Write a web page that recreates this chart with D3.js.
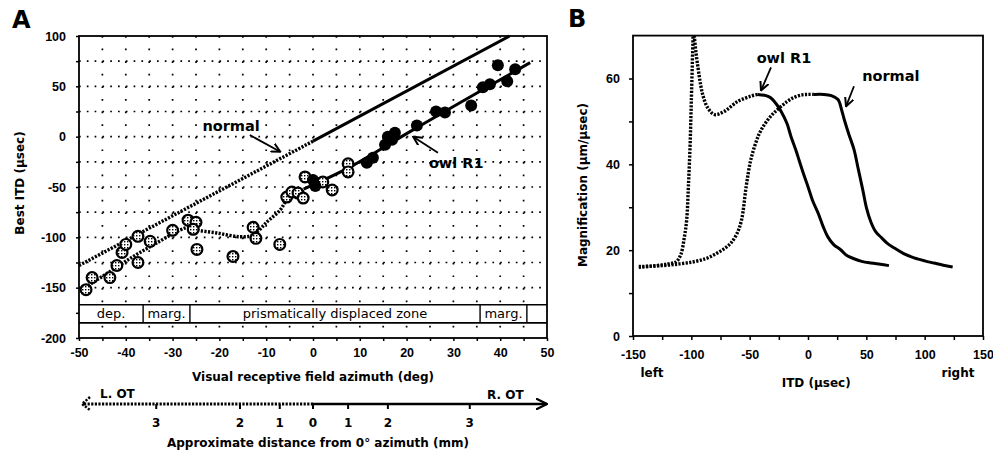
<!DOCTYPE html>
<html>
<head>
<meta charset="utf-8">
<script src="https://cdn.jsdelivr.net/npm/d3@7"></script>
<style>
  body { margin: 0; background: #fff; }
  svg { display: block; font-family: "DejaVu Sans", sans-serif; }
  .tick text { font-weight: bold; font-size: 12.5px; fill: #000; }
  .domain { display: none; }
  .tick line { stroke: #000; stroke-width: 1.5; }
</style>
</head>
<body>
<svg id="chart" width="993" height="455"></svg>
<script>
// ---------- panel A data ----------
// open (dotted) circles: [azimuth deg, best ITD usec]
var openAz  = [-48.5, -47.2, -43.4, -41.9, -40.8, -40.0, -37.4, -37.4, -34.8, -30.0, -26.7, -25.0, -25.6, -24.8,
               -17.1, -12.8, -12.2, -7.1, -5.6, -4.5, -3.2, -2.1, -1.7, 2.1, 4.1, 7.5, 7.5];
var openItd = [-152, -140, -140, -128, -115, -107, -99, -125, -104, -93, -83, -85, -92, -112,
               -119, -90, -101, -107, -60, -55, -56, -61, -40, -45, -53, -27, -35];
// filled circles
var fillAz  = [0, 0.5, 11.5, 12.8, 15.4, 16.0, 17.5, 16.9, 22.2, 26.3, 28.2, 33.8, 36.3, 37.8, 39.5, 41.5, 43.2];
var fillItd = [-43, -49, -26, -21, -8, 0, 4, -3, 11, 25, 24, 31, 49, 52, 71, 55, 67];

// normal line (dotted for az<0, solid after)
var normalDotted = [[-50, -128], [0, -4.5]];
var normalSolid  = [[0, -4.5], [42, 100]];
// owl R1 curve
var owlDotted = [[-49.4, -152], [-43.4, -134], [-38.4, -119], [-33.4, -105.6], [-28.4, -92.7], [-26.5, -90],
                 [-24.8, -92.7], [-20.5, -95.7], [-15.6, -99.4], [-12.8, -97.7], [-9.8, -84.5],
                 [-7, -72.8], [-5.6, -63], [-2, -52]];
var owlSolid  = [[-2, -52], [8, -30], [20, 3], [30, 30], [46.4, 73.5]];

// zone band
var zoneLabels = ["dep.", "marg.", "prismatically displaced zone", "marg.", ""];
var zoneFrom   = [-50, -36.3, -26.3, 35.7, 45.7];
var zoneTo     = [-36.3, -26.3, 35.7, 45.7, 50];
var bandTop = -167, bandBottom = -185;

// mm scale under panel A: tick label and equivalent azimuth
var mmLabels = ["3", "2", "1", "0", "1", "2", "3"];
var mmAz     = [-33.5, -15.6, -7.1, 0, 7.5, 16, 33.5];

var xTicksA = d3.range(-50, 51, 5);
var yTicksA = d3.range(-200, 101, 25);

// ---------- panel B data ----------
var normalB_dotted = [[-145, 16.2], [-125, 16.4], [-110, 16.8], [-98, 17.3], [-88, 18], [-80, 19], [-72, 20.3],
                      [-66, 21.7], [-61, 23.8], [-57, 27], [-53, 34.8], [-49.5, 40.5], [-46, 44], [-42, 47],
                      [-38, 49], [-32, 51.2], [-26, 52.8], [-18, 54.6], [-12, 55.6], [-5, 56.2], [0, 56.3], [5, 56.3]];
var normalB_solid  = [[5, 56.3], [13.7, 56.3], [20, 56], [25.7, 55.1], [29, 52.5], [31, 50.5], [35, 47], [39.4, 43.5],
                      [43, 39], [47, 34], [50, 30], [54, 26.5], [58, 24.3], [62.6, 23], [68, 21.6], [74, 20.5],
                      [82, 19.2], [91, 18.2], [100, 17.5], [108, 17], [116, 16.5], [124, 16.1]];
var owlB_left   = [[-145, 16], [-130, 16.4], [-120, 16.8], [-113, 17.3], [-109, 19], [-106, 23], [-104, 27],
                   [-102.5, 35], [-101, 45], [-100, 55], [-98.5, 70]];
var owlB_right  = [[-97.5, 70], [-96, 66], [-94, 62], [-92, 58.5], [-90, 56], [-86, 53.2], [-80, 51.6],
                   [-72, 52.3], [-60, 54.7], [-49, 55.9], [-43, 56.3]];
var owlB_solid  = [[-43, 56.3], [-36, 56], [-32, 55.5], [-27, 54], [-23, 52.3], [-18, 49.5], [-14.6, 46.5],
                   [-10, 43], [-7.7, 41], [-3.5, 37.5], [0, 34.8], [4, 31.5], [8.6, 28.7], [13, 25.5], [17, 23.1],
                   [22, 21.3], [28, 20.1], [33, 18.8], [39.4, 18], [46, 17.4], [54, 17], [62, 16.7], [69.4, 16.4]];

var xTicksB = d3.range(-150, 151, 25);
var yTicksB = d3.range(0, 61, 10);

var svg = d3.select('#chart');

// patterns / markers
var defs = svg.append('defs');
var pat = defs.append('pattern').attr('id', 'dots').attr('patternUnits', 'userSpaceOnUse')
    .attr('width', 3).attr('height', 3);
pat.append('rect').attr('width', 3).attr('height', 3).attr('fill', '#fff');
pat.append('rect').attr('x', 1).attr('y', 1).attr('width', 1.4).attr('height', 1.4).attr('fill', '#000');
defs.append('marker').attr('id', 'arr').attr('viewBox', '0 -5 10 10').attr('refX', 9).attr('refY', 0)
    .attr('markerWidth', 10).attr('markerHeight', 10).attr('markerUnits', 'userSpaceOnUse').attr('orient', 'auto')
  .append('path').attr('d', 'M0,-4.5L9,0L0,4.5').attr('fill', 'none').attr('stroke', '#000').attr('stroke-width', 2);
defs.append('marker').attr('id', 'arrBig').attr('viewBox', '0 -6 12 12').attr('refX', 11).attr('refY', 0)
    .attr('markerWidth', 12).attr('markerHeight', 12).attr('markerUnits', 'userSpaceOnUse').attr('orient', 'auto')
  .append('path').attr('d', 'M0,-5.5L11,0L0,5.5').attr('fill', 'none').attr('stroke', '#000').attr('stroke-width', 2.2);

var hatch = '2.2,1.4';

// =============== PANEL A ===============
var xA = d3.scaleLinear().domain([-50, 50]).range([79, 547]);
var yA = d3.scaleLinear().domain([-200, 100]).range([338, 36]);
var gA = svg.append('g');

// grid
gA.selectAll('.vg').data(xTicksA.filter(function(d) { return d > -50 && d < 50; }))
  .enter().append('line')
    .attr('x1', function(d) { return xA(d); }).attr('x2', function(d) { return xA(d); })
    .attr('y1', yA(100)).attr('y2', yA(-200))
    .attr('stroke', '#000').attr('stroke-width', 1.7).attr('stroke-dasharray', '1.7,10.9');
gA.selectAll('.hg').data(yTicksA.filter(function(d) { return d > -200 && d < 100; }))
  .enter().append('line')
    .attr('x1', xA(-50)).attr('x2', xA(50))
    .attr('y1', function(d) { return yA(d); }).attr('y2', function(d) { return yA(d); })
    .attr('stroke', '#000').attr('stroke-width', 1.7).attr('stroke-dasharray', '1.7,6.1');

// zone band
gA.append('rect').attr('x', xA(-50)).attr('y', yA(bandTop)).attr('width', xA(50) - xA(-50))
  .attr('height', yA(bandBottom) - yA(bandTop)).attr('fill', '#fff');
gA.append('line').attr('x1', xA(-50)).attr('x2', xA(50)).attr('y1', yA(bandTop)).attr('y2', yA(bandTop))
  .attr('stroke', '#000').attr('stroke-width', 1.6);
gA.append('line').attr('x1', xA(-50)).attr('x2', xA(50)).attr('y1', yA(bandBottom)).attr('y2', yA(bandBottom))
  .attr('stroke', '#000').attr('stroke-width', 1.6);
gA.selectAll('.zd').data(zoneTo.slice(0, 4)).enter().append('line')
  .attr('x1', function(d) { return xA(d); }).attr('x2', function(d) { return xA(d); })
  .attr('y1', yA(bandTop)).attr('y2', yA(bandBottom)).attr('stroke', '#000').attr('stroke-width', 1.4);
gA.selectAll('.zl').data(zoneLabels).enter().append('text')
  .attr('x', function(d, i) { return (xA(zoneFrom[i]) + xA(zoneTo[i])) / 2; })
  .attr('y', (yA(bandTop) + yA(bandBottom)) / 2 + 4.5)
  .attr('text-anchor', 'middle').attr('font-size', 13).text(function(d) { return d; });

// frame
gA.append('rect').attr('x', xA(-50)).attr('y', yA(100)).attr('width', xA(50) - xA(-50))
  .attr('height', yA(-200) - yA(100)).attr('fill', 'none').attr('stroke', '#000').attr('stroke-width', 1.8);

// axes
gA.append('g').attr('transform', 'translate(' + xA(-50) + ',0)')
  .call(d3.axisLeft(yA).tickValues(yTicksA).tickSize(3).tickPadding(10)
    .tickFormat(function(d) { return d % 50 === 0 ? String(d) : ''; }));
gA.append('g').attr('transform', 'translate(0,' + yA(-200) + ')')
  .call(d3.axisBottom(xA).tickValues(xTicksA).tickSize(3).tickPadding(7)
    .tickFormat(function(d) { return d % 10 === 0 ? String(d) : ''; }));

// lines
var lineA = d3.line().x(function(d) { return xA(d[0]); }).y(function(d) { return yA(d[1]); });
var lineAc = d3.line().curve(d3.curveCatmullRom).x(function(d) { return xA(d[0]); }).y(function(d) { return yA(d[1]); });
gA.append('path').attr('d', lineA(normalDotted)).attr('fill', 'none').attr('stroke', '#000')
  .attr('stroke-width', 3.4).attr('stroke-dasharray', hatch);
gA.append('path').attr('d', lineA(normalSolid)).attr('fill', 'none').attr('stroke', '#000').attr('stroke-width', 3);
gA.append('path').attr('d', lineAc(owlDotted)).attr('fill', 'none').attr('stroke', '#000')
  .attr('stroke-width', 3.4).attr('stroke-dasharray', hatch);
gA.append('path').attr('d', lineAc(owlSolid)).attr('fill', 'none').attr('stroke', '#000').attr('stroke-width', 3);

// points
gA.selectAll('.op').data(openAz).enter().append('circle')
  .attr('cx', function(d) { return xA(d); }).attr('cy', function(d, i) { return yA(openItd[i]); })
  .attr('r', 5.4).attr('fill', 'url(#dots)').attr('stroke', '#000').attr('stroke-width', 2.2);
gA.selectAll('.fp').data(fillAz).enter().append('circle')
  .attr('cx', function(d) { return xA(d); }).attr('cy', function(d, i) { return yA(fillItd[i]); })
  .attr('r', 6).attr('fill', '#000');

// annotations
gA.append('text').attr('x', xA(-17.5)).attr('y', yA(6)).attr('text-anchor', 'middle')
  .attr('font-size', 14.5).attr('font-weight', 'bold').text('normal');
gA.append('line').attr('x1', xA(-13.5)).attr('y1', yA(1.6)).attr('x2', xA(-7)).attr('y2', yA(-15))
  .attr('stroke', '#000').attr('stroke-width', 1.8).attr('marker-end', 'url(#arr)');
gA.append('text').attr('x', xA(30.6)).attr('y', yA(-31)).attr('text-anchor', 'middle')
  .attr('font-size', 14.5).attr('font-weight', 'bold').text('owl R1');
gA.append('line').attr('x1', xA(26.7)).attr('y1', yA(-16)).attr('x2', xA(21.4)).attr('y2', yA(0))
  .attr('stroke', '#000').attr('stroke-width', 1.8).attr('marker-end', 'url(#arr)');

gA.append('text').attr('x', 12).attr('y', 28).attr('font-size', 24).attr('font-weight', 'bold').text('A');
gA.append('text').attr('transform', 'translate(24,183) rotate(-90)').attr('text-anchor', 'middle')
  .attr('font-size', 12).attr('font-weight', 'bold').text('Best ITD (\u00b5sec)');
gA.append('text').attr('x', xA(0)).attr('y', 381).attr('text-anchor', 'middle')
  .attr('font-size', 12).attr('font-weight', 'bold').text('Visual receptive field azimuth (deg)');

// mm scale
var mmY = 404;
gA.append('line').attr('x1', 84).attr('x2', xA(0)).attr('y1', mmY).attr('y2', mmY)
  .attr('stroke', '#000').attr('stroke-width', 3.2).attr('stroke-dasharray', hatch);
gA.append('path').attr('d', 'M90,397 L82,404 L90,410').attr('fill', 'none').attr('stroke', '#000')
  .attr('stroke-width', 2.5).attr('stroke-dasharray', hatch);
gA.append('line').attr('x1', xA(0)).attr('x2', 547).attr('y1', mmY).attr('y2', mmY)
  .attr('stroke', '#000').attr('stroke-width', 2.6).attr('marker-end', 'url(#arrBig)');
gA.selectAll('.mt').data(mmAz).enter().append('line')
  .attr('x1', function(d) { return xA(d); }).attr('x2', function(d) { return xA(d); })
  .attr('y1', mmY).attr('y2', mmY + 5).attr('stroke', '#000').attr('stroke-width', 2);
gA.selectAll('.ml').data(mmLabels).enter().append('text')
  .attr('x', function(d, i) { return xA(mmAz[i]); }).attr('y', 427).attr('text-anchor', 'middle')
  .attr('font-size', 12).attr('font-weight', 'bold').text(function(d) { return d; });
gA.append('text').attr('x', 100).attr('y', 398).attr('font-size', 12).attr('font-weight', 'bold').text('L. OT');
gA.append('text').attr('x', 487).attr('y', 399).attr('font-size', 12).attr('font-weight', 'bold').text('R. OT');
gA.append('text').attr('x', 318).attr('y', 447).attr('text-anchor', 'middle')
  .attr('font-size', 12).attr('font-weight', 'bold').text('Approximate distance from 0\u00b0 azimuth (mm)');

// =============== PANEL B ===============
var xB = d3.scaleLinear().domain([-150, 150]).range([633, 983]);
var yB = d3.scaleLinear().domain([0, 70]).range([336, 35.6]);
var gB = svg.append('g');

gB.append('rect').attr('x', xB(-150)).attr('y', yB(70)).attr('width', xB(150) - xB(-150))
  .attr('height', yB(0) - yB(70)).attr('fill', 'none').attr('stroke', '#000').attr('stroke-width', 1.8);
gB.append('g').attr('transform', 'translate(' + xB(-150) + ',0)')
  .call(d3.axisLeft(yB).tickValues(yTicksB).tickSize(4).tickPadding(9)
    .tickFormat(function(d) { return d % 20 === 0 ? String(d) : ''; }));
gB.append('g').attr('transform', 'translate(0,' + yB(0) + ')')
  .call(d3.axisBottom(xB).tickValues(xTicksB).tickSize(4).tickPadding(10)
    .tickFormat(function(d) { return d % 50 === 0 ? String(d) : ''; }));

var lineB = d3.line().curve(d3.curveCatmullRom).x(function(d) { return xB(d[0]); }).y(function(d) { return yB(d[1]); });
[normalB_dotted, owlB_left, owlB_right].forEach(function(s) {
  gB.append('path').attr('d', lineB(s)).attr('fill', 'none').attr('stroke', '#000')
    .attr('stroke-width', 3.4).attr('stroke-dasharray', hatch);
});
[normalB_solid, owlB_solid].forEach(function(s) {
  gB.append('path').attr('d', lineB(s)).attr('fill', 'none').attr('stroke', '#000').attr('stroke-width', 3);
});

gB.append('text').attr('x', xB(-20.6)).attr('y', yB(63.5)).attr('text-anchor', 'middle')
  .attr('font-size', 14.5).attr('font-weight', 'bold').text('owl R1');
gB.append('line').attr('x1', xB(-31.7)).attr('y1', yB(62.6)).attr('x2', xB(-40.3)).attr('y2', yB(57.2))
  .attr('stroke', '#000').attr('stroke-width', 1.8).attr('marker-end', 'url(#arr)');
gB.append('text').attr('x', xB(71)).attr('y', yB(59.5)).attr('text-anchor', 'middle')
  .attr('font-size', 14.5).attr('font-weight', 'bold').text('normal');
gB.append('line').attr('x1', xB(39.4)).attr('y1', yB(58.2)).attr('x2', xB(32.6)).attr('y2', yB(53.5))
  .attr('stroke', '#000').attr('stroke-width', 1.8).attr('marker-end', 'url(#arr)');

gB.append('text').attr('x', 568).attr('y', 27).attr('font-size', 24).attr('font-weight', 'bold').text('B');
gB.append('text').attr('transform', 'translate(587,185) rotate(-90)').attr('text-anchor', 'middle')
  .attr('font-size', 12).attr('font-weight', 'bold').text('Magnification (\u00b5m/\u00b5sec)');
gB.append('text').attr('x', xB(7)).attr('y', 387).attr('text-anchor', 'middle')
  .attr('font-size', 12).attr('font-weight', 'bold').text('ITD (\u00b5sec)');
gB.append('text').attr('x', 652).attr('y', 377).attr('text-anchor', 'middle')
  .attr('font-size', 12).attr('font-weight', 'bold').text('left');
gB.append('text').attr('x', 958).attr('y', 377).attr('text-anchor', 'middle')
  .attr('font-size', 12).attr('font-weight', 'bold').text('right');
</script>
</body>
</html>
